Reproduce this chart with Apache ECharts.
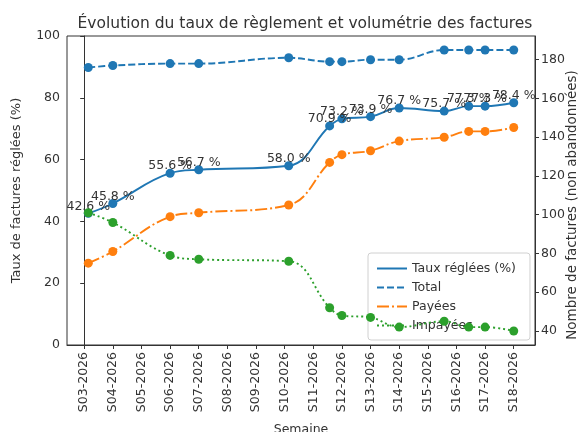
<!DOCTYPE html>
<html>
<head>
<meta charset="utf-8">
<script src="https://cdn.jsdelivr.net/npm/echarts@6/dist/echarts.min.js"></script>
<style>html,body{margin:0;padding:0;background:#fff}#c{width:583px;height:432px}</style>
</head>
<body>
<div id="c"></div>
<script>
const weekLabels = ['S03-2026','S04-2026','S05-2026','S06-2026','S07-2026','S08-2026','S09-2026','S10-2026','S11-2026','S12-2026','S13-2026','S14-2026','S15-2026','S16-2026','S17-2026','S18-2026'];
const weekStart = '2026-01-12';
const dates = ['2026-01-13','2026-01-19','2026-02-02','2026-02-09','2026-03-03','2026-03-13','2026-03-16','2026-03-23','2026-03-30','2026-04-10','2026-04-16','2026-04-20','2026-04-27'];
const taux = [42.6, 45.8, 55.6, 56.7, 58.0, 70.9, 73.2, 73.9, 76.7, 75.7, 77.3, 77.3, 78.4];
const total = [176, 177, 178, 178, 181, 179, 179, 180, 180, 185, 185, 185, 185];
const payees = [75, 81, 99, 101, 105, 127, 131, 133, 138, 140, 143, 143, 145];
const impayees = [101, 96, 79, 77, 76, 52, 48, 47, 42, 45, 42, 42, 40];
const rightTicks = [40, 60, 80, 100, 120, 140, 160, 180];
const rightAxisName = 'Nombre de factures (non abandonnées)';

const dayOf = d => (Date.parse(d) - Date.parse(weekStart)) / 86400000;
const xs = dates.map(dayOf);
const pair = arr => arr.map((v, i) => [xs[i], v]);
const tickVals = weekLabels.map((_, i) => i * 7);

const FONT = 'DejaVu Sans';
const TXT = '#333';
const FS = 12.5;
const chart = echarts.init(document.getElementById('c'), null, {renderer: 'canvas'});

chart.setOption({
  animation: false,
  textStyle: {fontFamily: FONT},
  title: {
    text: 'Évolution du taux de règlement et volumétrie des factures',
    left: 300, top: 11, textAlign: 'center',
    textStyle: {fontFamily: FONT, fontSize: 15.5, fontWeight: 'normal', color: TXT}
  },
  graphic: [{
    type: 'text', x: 572, y: 205, rotation: Math.PI / 2,
    style: {text: rightAxisName, fill: TXT, font: '13.5px "DejaVu Sans"', align: 'center', verticalAlign: 'middle'}
  }],
  grid: {left: 67, right: 48, top: 36, bottom: 87, outerBoundsMode: 'none', containLabel: false,
         show: true, borderColor: '#333', borderWidth: 1, backgroundColor: 'transparent'},
  legend: {
    orient: 'vertical', left: 368, top: 253, z: 4,
    padding: [9, 14, 8, 8], itemGap: 6, itemWidth: 30, itemHeight: 14,
    backgroundColor: 'rgba(255,255,255,0.8)', borderColor: '#d0d0d0', borderWidth: 1, borderRadius: 3,
    textStyle: {fontFamily: FONT, fontSize: FS, color: TXT},
    itemStyle: {opacity: 0},
    data: ['Taux réglées (%)', 'Total', 'Payées', 'Impayées']
  },
  xAxis: {
    type: 'value', min: -4.2, max: 110.2,
    name: 'Semaine', nameLocation: 'middle', nameGap: 78,
    nameTextStyle: {fontFamily: FONT, fontSize: FS, color: TXT},
    axisLine: {show: true, lineStyle: {color: '#333'}},
    axisTick: {show: true, length: 4, customValues: tickVals, lineStyle: {color: '#333'}},
    axisLabel: {
      customValues: tickVals, rotate: 90, margin: 7,
      fontFamily: FONT, fontSize: FS, color: TXT,
      formatter: v => weekLabels[Math.round(v / 7)]
    },
    splitLine: {show: false}
  },
  yAxis: [
    {
      type: 'value', min: 0, max: 100, interval: 20, position: 'left',
      name: 'Taux de factures réglées (%)', nameLocation: 'middle', nameGap: 44, nameRotate: 90,
      nameTextStyle: {fontFamily: FONT, fontSize: 13, color: TXT},
      axisLine: {show: true, lineStyle: {color: '#333'}},
      axisTick: {show: true, length: 4, lineStyle: {color: '#333'}},
      axisLabel: {fontFamily: FONT, fontSize: FS, color: TXT, margin: 7},
      splitLine: {show: false}
    },
    {
      type: 'value', min: 32.75, max: 192.25, position: 'right',
      axisLine: {show: true, lineStyle: {color: '#333'}},
      axisTick: {show: true, length: 4, customValues: rightTicks, lineStyle: {color: '#333'}},
      axisLabel: {customValues: rightTicks, fontFamily: FONT, fontSize: FS, color: TXT, margin: 6},
      splitLine: {show: false}
    }
  ],
  series: [
    {
      name: 'Taux réglées (%)', type: 'line', yAxisIndex: 0, data: pair(taux), z: 2,
      smooth: 0.4, symbol: 'circle', symbolSize: 9, showAllSymbol: true,
      lineStyle: {color: '#1f77b4', width: 1.9, type: 'solid'},
      itemStyle: {color: '#1f77b4'},
      label: {
        show: true, position: 'top', distance: -4,
        fontFamily: FONT, fontSize: FS, color: TXT,
        formatter: p => p.value[1].toFixed(1) + ' %'
      }
    },
    {
      name: 'Total', type: 'line', yAxisIndex: 1, data: pair(total), z: 5,
      smooth: 0.4, symbol: 'circle', symbolSize: 9, showAllSymbol: true,
      lineStyle: {color: '#1f77b4', width: 1.9, type: [7, 3]},
      itemStyle: {color: '#1f77b4'}
    },
    {
      name: 'Payées', type: 'line', yAxisIndex: 1, data: pair(payees), z: 5,
      smooth: 0.4, symbol: 'circle', symbolSize: 9, showAllSymbol: true,
      lineStyle: {color: '#ff7f0e', width: 1.9, type: [12, 3, 2, 3]},
      itemStyle: {color: '#ff7f0e'}
    },
    {
      name: 'Impayées', type: 'line', yAxisIndex: 1, data: pair(impayees), z: 5,
      smooth: 0.4, symbol: 'circle', symbolSize: 9, showAllSymbol: true,
      lineStyle: {color: '#2ca02c', width: 1.9, type: [2, 3]},
      itemStyle: {color: '#2ca02c'}
    }
  ]
});
</script>
</body>
</html>
